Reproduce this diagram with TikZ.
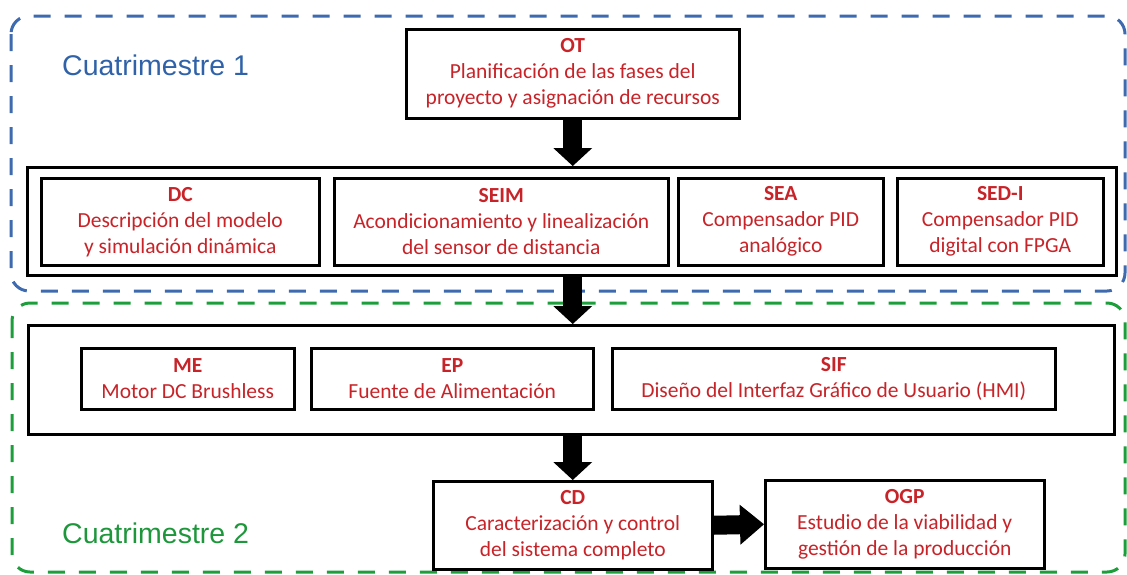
\documentclass[tikz,border=0pt]{standalone}
\usepackage{fontspec}
\setmainfont{Carlito}
\newfontfamily\arialfont{Liberation Sans}
\usetikzlibrary{arrows.meta}
\definecolor{cblue}{RGB}{62,106,175}
\definecolor{cbluetext}{RGB}{47,98,168}
\definecolor{cgreen}{RGB}{28,158,58}
\definecolor{cgreentext}{RGB}{30,150,60}
\definecolor{cred}{RGB}{200,35,40}
\tikzset{
  semester/.style={line width=3pt, dash pattern=on 17pt off 14pt, rounded corners=18pt},
  frame/.style={draw=black, line width=3pt, fill=white, anchor=north west, inner sep=0pt},
  task/.style={draw=black, line width=2.5pt, fill=white, anchor=north west, inner sep=0pt,
    align=center, text=cred, font=\fontsize{21.5}{26}\selectfont},
  semlabel/.style={anchor=west, inner sep=0pt, font=\arialfont\fontsize{28.5}{32}\selectfont},
  blockarrow/.style={line width=19pt, -{Triangle[width=39pt,length=18pt,line width=0pt]}},
  sidearrow/.style={line width=19pt, -{Triangle[width=40pt,length=24pt,line width=0pt]}}
}
\begin{document}
\begin{tikzpicture}[x=1pt,y=-1pt]
\useasboundingbox (0,0) rectangle (1127,574);
% semester regions
\draw[semester, draw=cblue] (11,16) rectangle (1125,291);
\draw[semester, draw=cgreen] (12,303) rectangle (1125,572);
\node[semlabel, text=cbluetext] (s1) at (62,65) {Cuatrimestre 1};
\node[semlabel, text=cgreentext] (s2) at (62,533) {Cuatrimestre 2};
% top task
\node[task, minimum width=333pt, minimum height=89pt] (ot) at (405,28)
  {\textbf{OT}\\Planificación de las fases del\\proyecto y asignación de recursos};
% first frame
\node[frame, minimum width=1089pt, minimum height=108pt] (big1) at (26,166) {};
\node[task, minimum width=278pt, minimum height=87pt] (dc) at (40,177)
  {\textbf{DC}\\Descripción del modelo\\y simulación dinámica};
\node[task, minimum width=334pt, minimum height=87pt] (seim) at (333,177)
  {\textbf{SEIM}\\Acondicionamiento y linealización\\del sensor de distancia};
\node[task, minimum width=205pt, minimum height=87pt] (sea) at (677,177)
  {\textbf{SEA}\\Compensador PID\\analógico};
\node[task, minimum width=206pt, minimum height=87pt] (sedi) at (896,177)
  {\textbf{SED-I}\\Compensador PID\\digital con FPGA};
% second frame
\node[frame, minimum width=1086pt, minimum height=109pt] (big2) at (27,324) {};
\node[task, minimum width=213pt, minimum height=61pt] (me) at (80,347)
  {\textbf{ME}\\Motor DC Brushless};
\node[task, minimum width=282pt, minimum height=61pt] (ep) at (310,347)
  {\textbf{EP}\\Fuente de Alimentación};
\node[task, minimum width=443pt, minimum height=61pt] (sif) at (611,347)
  {\textbf{SIF}\\Diseño del Interfaz Gráfico de Usuario (HMI)};
% bottom tasks
\node[task, minimum width=279pt, minimum height=88pt] (cd) at (432,480)
  {\textbf{CD}\\Caracterización y control\\del sistema completo};
\node[task, minimum width=279pt, minimum height=88pt] (ogp) at (764,479)
  {\textbf{OGP}\\Estudio de la viabilidad y\\gestión de la producción};
% arrows
\draw[blockarrow] (ot.south) -- (ot.south |- big1.north);
\draw[blockarrow] (ot.south |- big1.south) -- (ot.south |- big2.north);
\draw[blockarrow] (cd.north |- big2.south) -- (cd.north);
\draw[sidearrow] (cd.east) -- (ogp.west);
\end{tikzpicture}
\end{document}
